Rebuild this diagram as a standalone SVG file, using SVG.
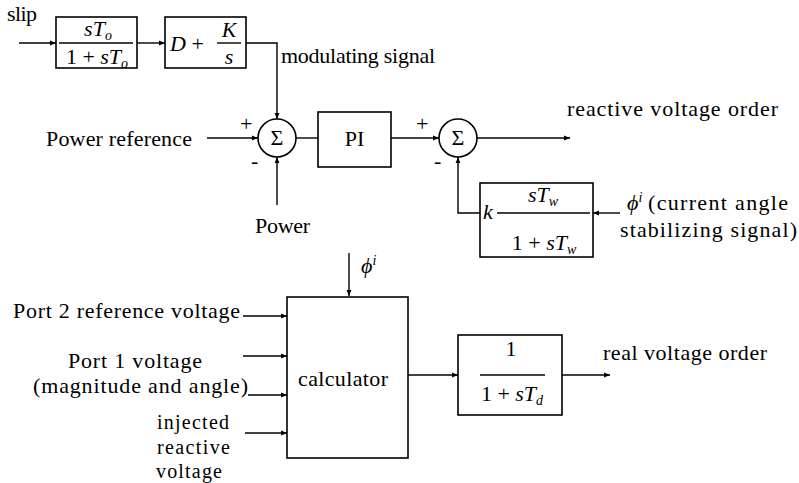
<svg xmlns="http://www.w3.org/2000/svg" width="799" height="483" viewBox="0 0 799 483">
<defs>
<marker id="ah" viewBox="0 0 10 10" refX="10" refY="5" markerWidth="8" markerHeight="6" markerUnits="userSpaceOnUse" orient="auto">
<path d="M0,1 L10,5 L0,9 z" fill="#000"/>
</marker>
<style>
.ln{fill:none;stroke:#000;stroke-width:1.4}
.ar{marker-end:url(#ah)}
.bx{fill:#fff;stroke:#000;stroke-width:1.6}
.t{font-family:"Liberation Serif","Times New Roman",serif;font-size:22px;fill:#000}
.s{font-size:20px}
.m{font-family:"Liberation Serif","Times New Roman",serif;font-size:22px;font-style:italic;fill:#000}
.r{font-style:normal}
.sub{font-size:14px}
.c{text-anchor:middle}
</style>
</defs>
<rect width="799" height="483" fill="#fff"/>

<g id="connectors">
<path class="ln ar" d="M19,43 H56"/>
<path class="ln ar" d="M137,43 H165"/>
<path class="ln ar" d="M246,43 H277 V119"/>
<path class="ln ar" d="M207,138 H258"/>
<path class="ln ar" d="M277,205 V157"/>
<path class="ln" d="M296,138 H318"/>
<path class="ln ar" d="M391,138 H439"/>
<path class="ln ar" d="M477,138 H570"/>
<path class="ln ar" d="M620,213 H593"/>
<path class="ln ar" d="M480,213 H458 V157"/>
<path class="ln ar" d="M349,253 V296"/>
<path class="ln ar" d="M243,316 H287"/>
<path class="ln ar" d="M243,356 H287"/>
<path class="ln ar" d="M248,395 H287"/>
<path class="ln ar" d="M245,433 H287"/>
<path class="ln ar" d="M408,375 H458"/>
<path class="ln ar" d="M562,375 H610"/>
</g>

<g id="washout">
<rect class="bx" x="56" y="17" width="81" height="51"/>
<text class="m c" x="98" y="36">sT<tspan class="sub" dy="4">o</tspan></text>
<line class="ln" x1="59" y1="43" x2="133" y2="43"/>
<text class="m c" x="97" y="64"><tspan class="r">1 + </tspan>sT<tspan class="sub" dy="4">o</tspan></text>
</g>

<g id="pi-gain">
<rect class="bx" x="165" y="17" width="81" height="51"/>
<text class="m" x="170" y="51">D <tspan class="r">+</tspan></text>
<text class="m c" x="229" y="37">K</text>
<line class="ln" x1="217" y1="43" x2="241" y2="43"/>
<text class="m c" x="229" y="64">s</text>
</g>

<g id="sum1">
<circle class="bx" cx="277" cy="138" r="19"/>
<text class="t c" x="277" y="145">Σ</text>
<text class="t" x="240" y="131">+</text>
<text class="t" x="251" y="168">-</text>
</g>

<g id="pi">
<rect class="bx" x="318" y="112" width="73" height="55"/>
<text class="t c" x="354.5" y="146">PI</text>
</g>

<g id="sum2">
<circle class="bx" cx="458" cy="138" r="19"/>
<text class="t c" x="458" y="145">Σ</text>
<text class="t" x="416" y="131">+</text>
<text class="t" x="434" y="168">-</text>
</g>

<g id="stabilizer">
<rect class="bx" x="480" y="183" width="113" height="74"/>
<text class="m" x="483" y="219">k</text>
<text class="m c" x="543" y="202">sT<tspan class="sub" dy="4">w</tspan></text>
<line class="ln" x1="497" y1="213" x2="590" y2="213"/>
<text class="m c" x="544" y="250"><tspan class="r">1 + </tspan>sT<tspan class="sub" dy="4">w</tspan></text>
</g>

<g id="calculator">
<rect class="bx" x="287" y="297" width="121" height="161"/>
<text class="t" x="298" y="386" textLength="90" lengthAdjust="spacing">calculator</text>
</g>

<g id="lag">
<rect class="bx" x="458" y="335" width="104" height="80"/>
<text class="t c" x="511" y="356">1</text>
<line class="ln" x1="480" y1="375" x2="545" y2="375"/>
<text class="m c" x="512" y="401"><tspan class="r">1 + </tspan>sT<tspan class="sub" dy="4">d</tspan></text>
</g>

<g id="labels">
<text class="t" x="7" y="21" textLength="30" lengthAdjust="spacing">slip</text>
<text class="t" x="281" y="63" textLength="154" lengthAdjust="spacing">modulating signal</text>
<text class="t" x="46" y="146" textLength="146" lengthAdjust="spacing">Power reference</text>
<text class="t" x="255" y="233" textLength="55" lengthAdjust="spacing">Power</text>
<text class="t" x="567" y="116" textLength="211" lengthAdjust="spacing">reactive voltage order</text>
<text class="m" x="627" y="210">ϕ<tspan class="sub" dy="-8">i</tspan></text>
<text class="t" x="648" y="210" textLength="140" lengthAdjust="spacing">(current angle</text>
<text class="t" x="620" y="237" textLength="177" lengthAdjust="spacing">stabilizing signal)</text>
<text class="m" x="361" y="273">ϕ<tspan class="sub" dy="-8">i</tspan></text>
<text class="t" x="13" y="318" textLength="227" lengthAdjust="spacing">Port 2 reference voltage</text>
<text class="t" x="68" y="368" textLength="134" lengthAdjust="spacing">Port 1 voltage</text>
<text class="t" x="33" y="393" textLength="215" lengthAdjust="spacing">(magnitude and angle)</text>
<text class="t s" x="157" y="429" textLength="72" lengthAdjust="spacing">injected</text>
<text class="t s" x="157" y="454" textLength="73" lengthAdjust="spacing">reactive</text>
<text class="t s" x="156" y="478" textLength="66" lengthAdjust="spacing">voltage</text>
<text class="t" x="603" y="360" textLength="164" lengthAdjust="spacing">real voltage order</text>
</g>
</svg>
